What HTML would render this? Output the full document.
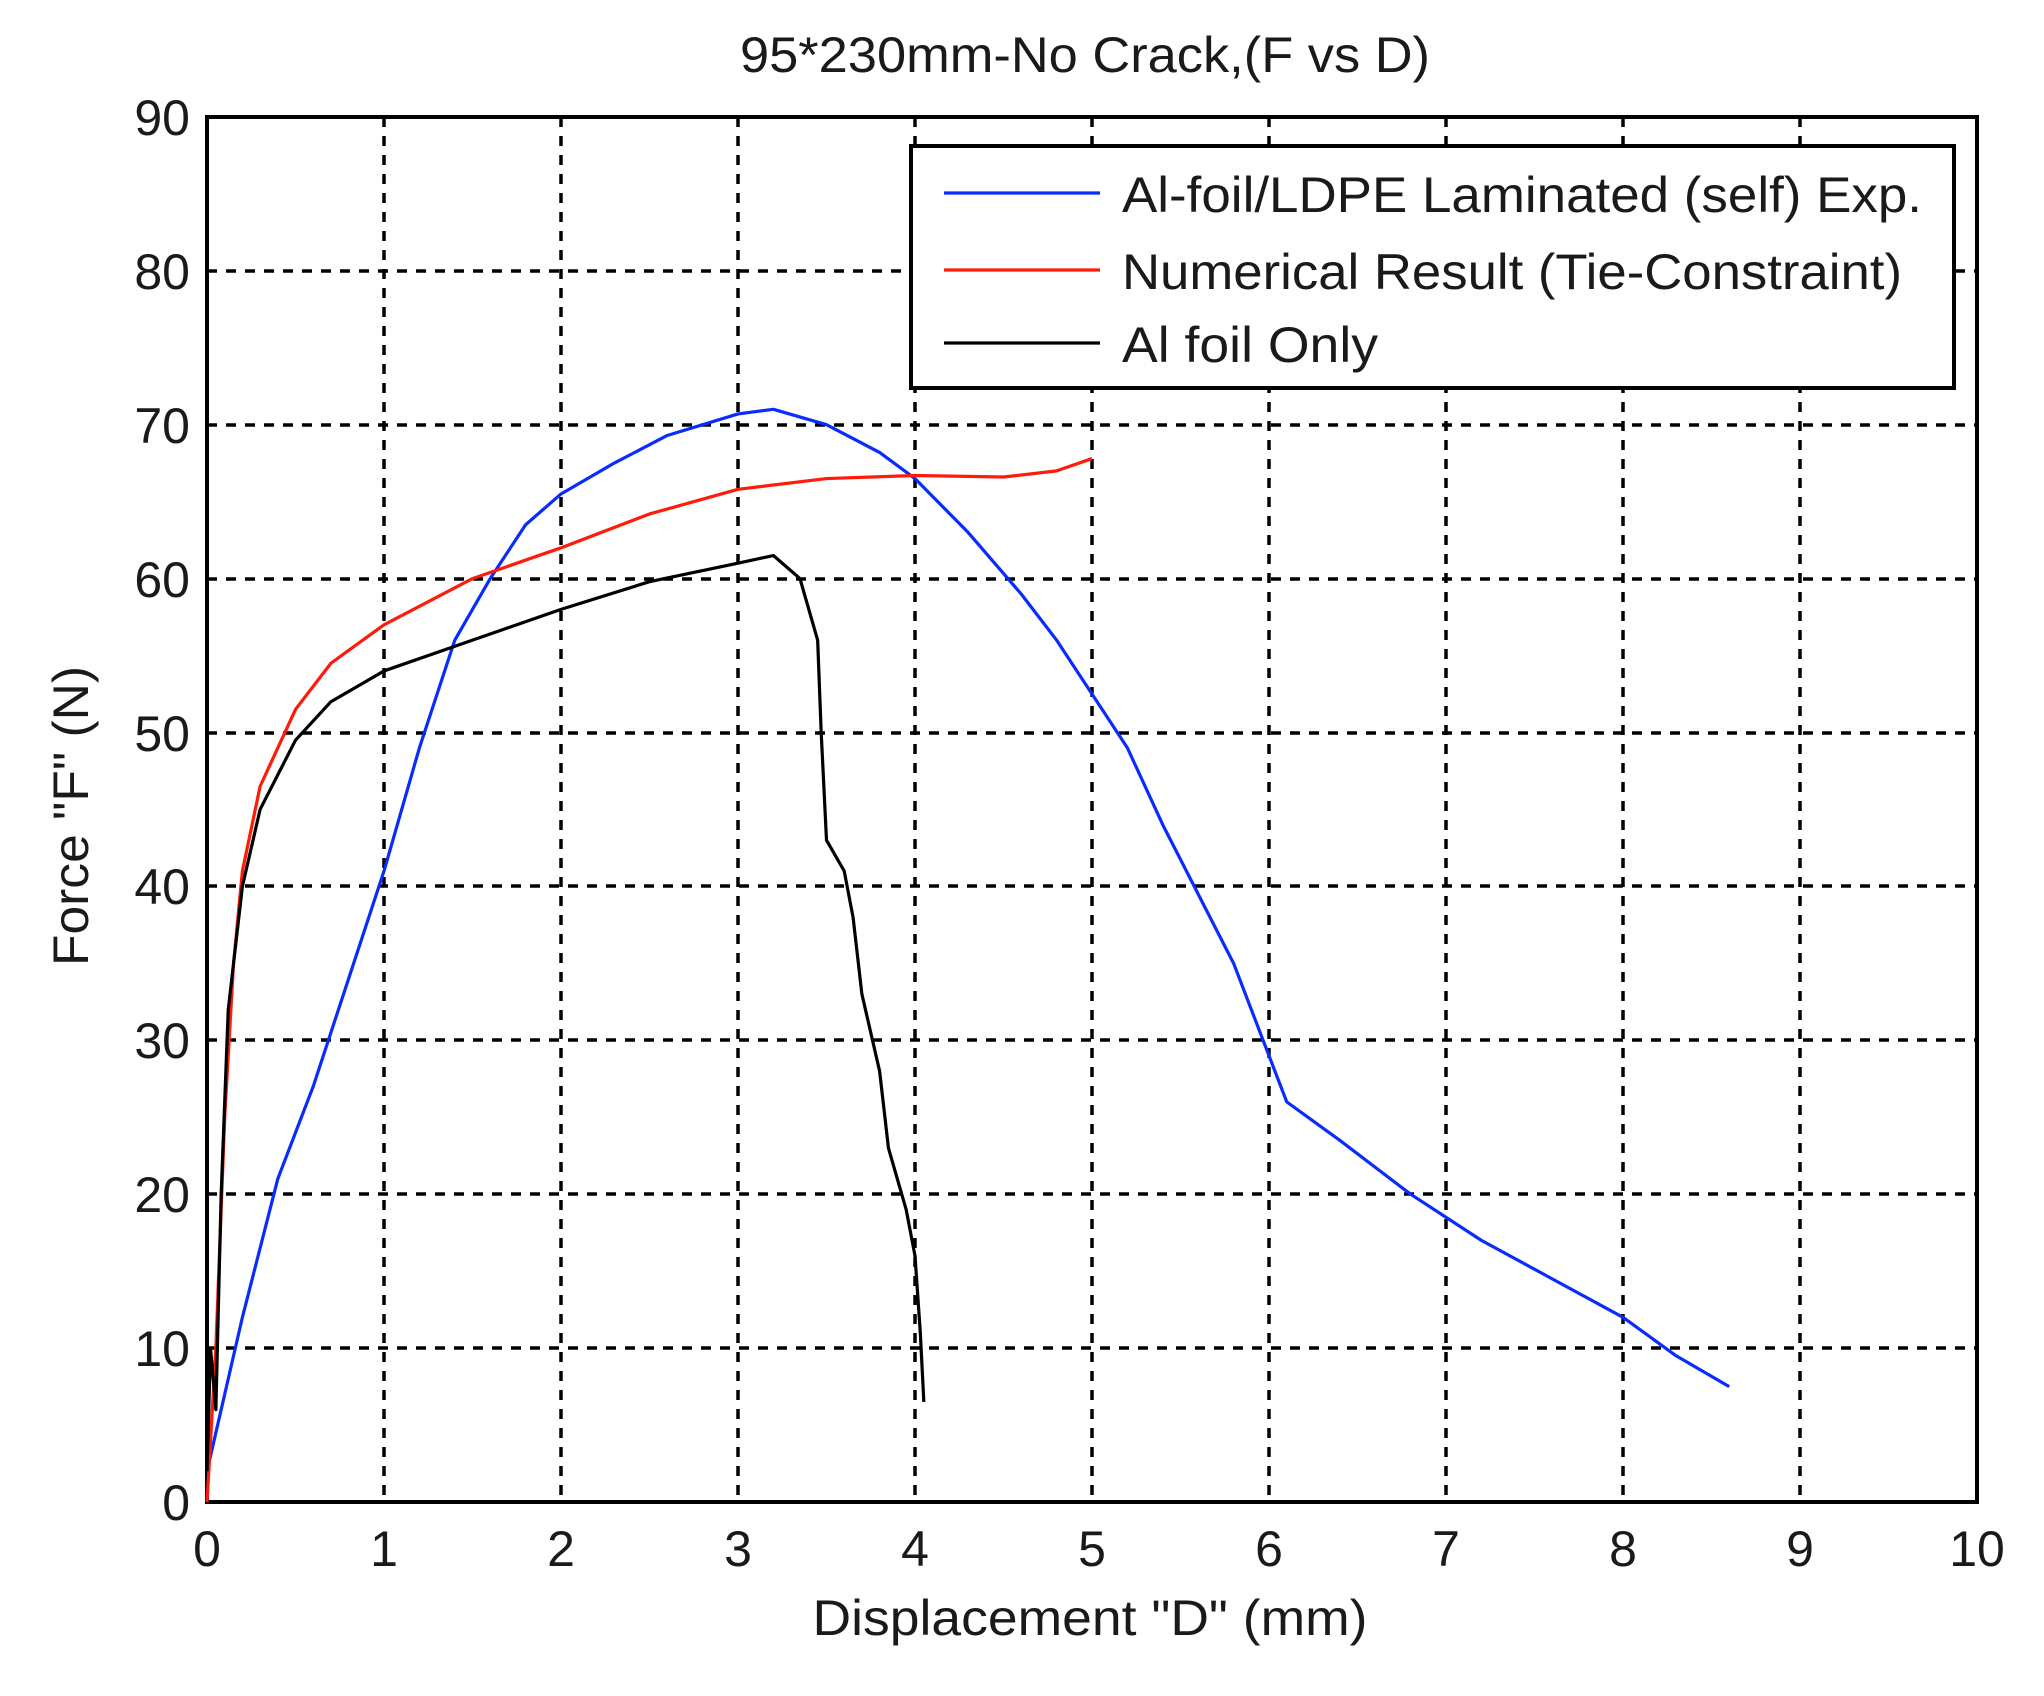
<!DOCTYPE html>
<html><head><style>body{margin:0;background:#fff}svg{display:block}text{font-family:"Liberation Sans",Arial,sans-serif;fill:#1a1a1a}</style></head>
<body>
<svg width="2044" height="1696" viewBox="0 0 2044 1696">
<rect width="2044" height="1696" fill="#fff"/>
<g stroke="#000" stroke-width="3.5" stroke-dasharray="10,9">
<line x1="384" y1="117" x2="384" y2="1502"/><line x1="561" y1="117" x2="561" y2="1502"/><line x1="738" y1="117" x2="738" y2="1502"/><line x1="915" y1="117" x2="915" y2="1502"/><line x1="1092" y1="117" x2="1092" y2="1502"/><line x1="1269" y1="117" x2="1269" y2="1502"/><line x1="1446" y1="117" x2="1446" y2="1502"/><line x1="1623" y1="117" x2="1623" y2="1502"/><line x1="1800" y1="117" x2="1800" y2="1502"/>
<line x1="207" y1="1348" x2="1977" y2="1348"/><line x1="207" y1="1194" x2="1977" y2="1194"/><line x1="207" y1="1040" x2="1977" y2="1040"/><line x1="207" y1="886" x2="1977" y2="886"/><line x1="207" y1="733" x2="1977" y2="733"/><line x1="207" y1="579" x2="1977" y2="579"/><line x1="207" y1="425" x2="1977" y2="425"/><line x1="207" y1="271" x2="1977" y2="271"/>
</g>
<rect x="207" y="117" width="1770" height="1385" fill="none" stroke="#000" stroke-width="4"/>
<g transform="translate(207,1502) scale(177,-15.39)" fill="none" stroke-width="3.2" stroke-linejoin="round">
<polyline vector-effect="non-scaling-stroke" stroke="#0a2bff" points="0,2 0.2,12 0.4,21 0.6,27 0.8,34 1,41 1.2,49 1.4,56 1.6,60 1.8,63.5 2,65.5 2.3,67.5 2.6,69.3 3,70.7 3.2,71 3.5,70 3.8,68.2 4,66.5 4.3,63 4.6,59 4.8,56 5,52.5 5.2,49 5.4,44 5.6,39.5 5.8,35 6,29 6.1,26 6.4,23.5 6.8,20 7.2,17 7.6,14.5 8,12 8.3,9.5 8.6,7.5"/>
<polyline vector-effect="non-scaling-stroke" stroke="#ff1a0a" points="0,0 0.05,10 0.1,25 0.15,35 0.2,41 0.3,46.5 0.5,51.5 0.7,54.5 1,57 1.5,60 2,62 2.5,64.2 3,65.8 3.5,66.5 4,66.7 4.5,66.6 4.8,67 5,67.8"/>
<polyline vector-effect="non-scaling-stroke" stroke="#000" points="0,2 0.02,10 0.05,6 0.08,20 0.12,32 0.2,40 0.3,45 0.5,49.5 0.7,52 1,54 1.5,56 2,58 2.5,59.8 3,61 3.2,61.5 3.35,60 3.45,56 3.47,50 3.5,43 3.6,41 3.65,38 3.7,33 3.8,28 3.85,23 3.95,19 4,16 4.03,11 4.05,6.5"/>
</g>
<rect x="911" y="146" width="1043" height="242" fill="#fff" stroke="#000" stroke-width="4"/>
<line x1="944" y1="193" x2="1100" y2="193" stroke="#0a2bff" stroke-width="3.2"/>
<line x1="944" y1="270" x2="1100" y2="270" stroke="#ff1a0a" stroke-width="3.2"/>
<line x1="944" y1="343" x2="1100" y2="343" stroke="#000" stroke-width="3.2"/>
<g font-size="50">
<text x="1122" y="212" textLength="800" lengthAdjust="spacingAndGlyphs">Al-foil/LDPE Laminated (self) Exp.</text>
<text x="1122" y="289" textLength="780" lengthAdjust="spacingAndGlyphs">Numerical Result (Tie-Constraint)</text>
<text x="1122" y="362" textLength="256" lengthAdjust="spacingAndGlyphs">Al foil Only</text>
</g>
<g font-size="50" text-anchor="end">
<text x="190" y="1520">0</text><text x="190" y="1366">10</text><text x="190" y="1212">20</text><text x="190" y="1058">30</text><text x="190" y="904">40</text><text x="190" y="751">50</text><text x="190" y="597">60</text><text x="190" y="443">70</text><text x="190" y="289">80</text><text x="190" y="135">90</text>
</g>
<g font-size="50" text-anchor="middle">
<text x="207" y="1566">0</text><text x="384" y="1566">1</text><text x="561" y="1566">2</text><text x="738" y="1566">3</text><text x="915" y="1566">4</text><text x="1092" y="1566">5</text><text x="1269" y="1566">6</text><text x="1446" y="1566">7</text><text x="1623" y="1566">8</text><text x="1800" y="1566">9</text><text x="1977" y="1566">10</text>
<text x="1090" y="1635" font-size="50" textLength="555" lengthAdjust="spacingAndGlyphs">Displacement "D" (mm)</text>
<text x="1085" y="72" font-size="50" textLength="690" lengthAdjust="spacingAndGlyphs">95*230mm-No Crack,(F vs D)</text>
<text transform="translate(88,816) rotate(-90)" font-size="50" textLength="300" lengthAdjust="spacingAndGlyphs">Force "F" (N)</text>
</g>
</svg>
</body></html>
